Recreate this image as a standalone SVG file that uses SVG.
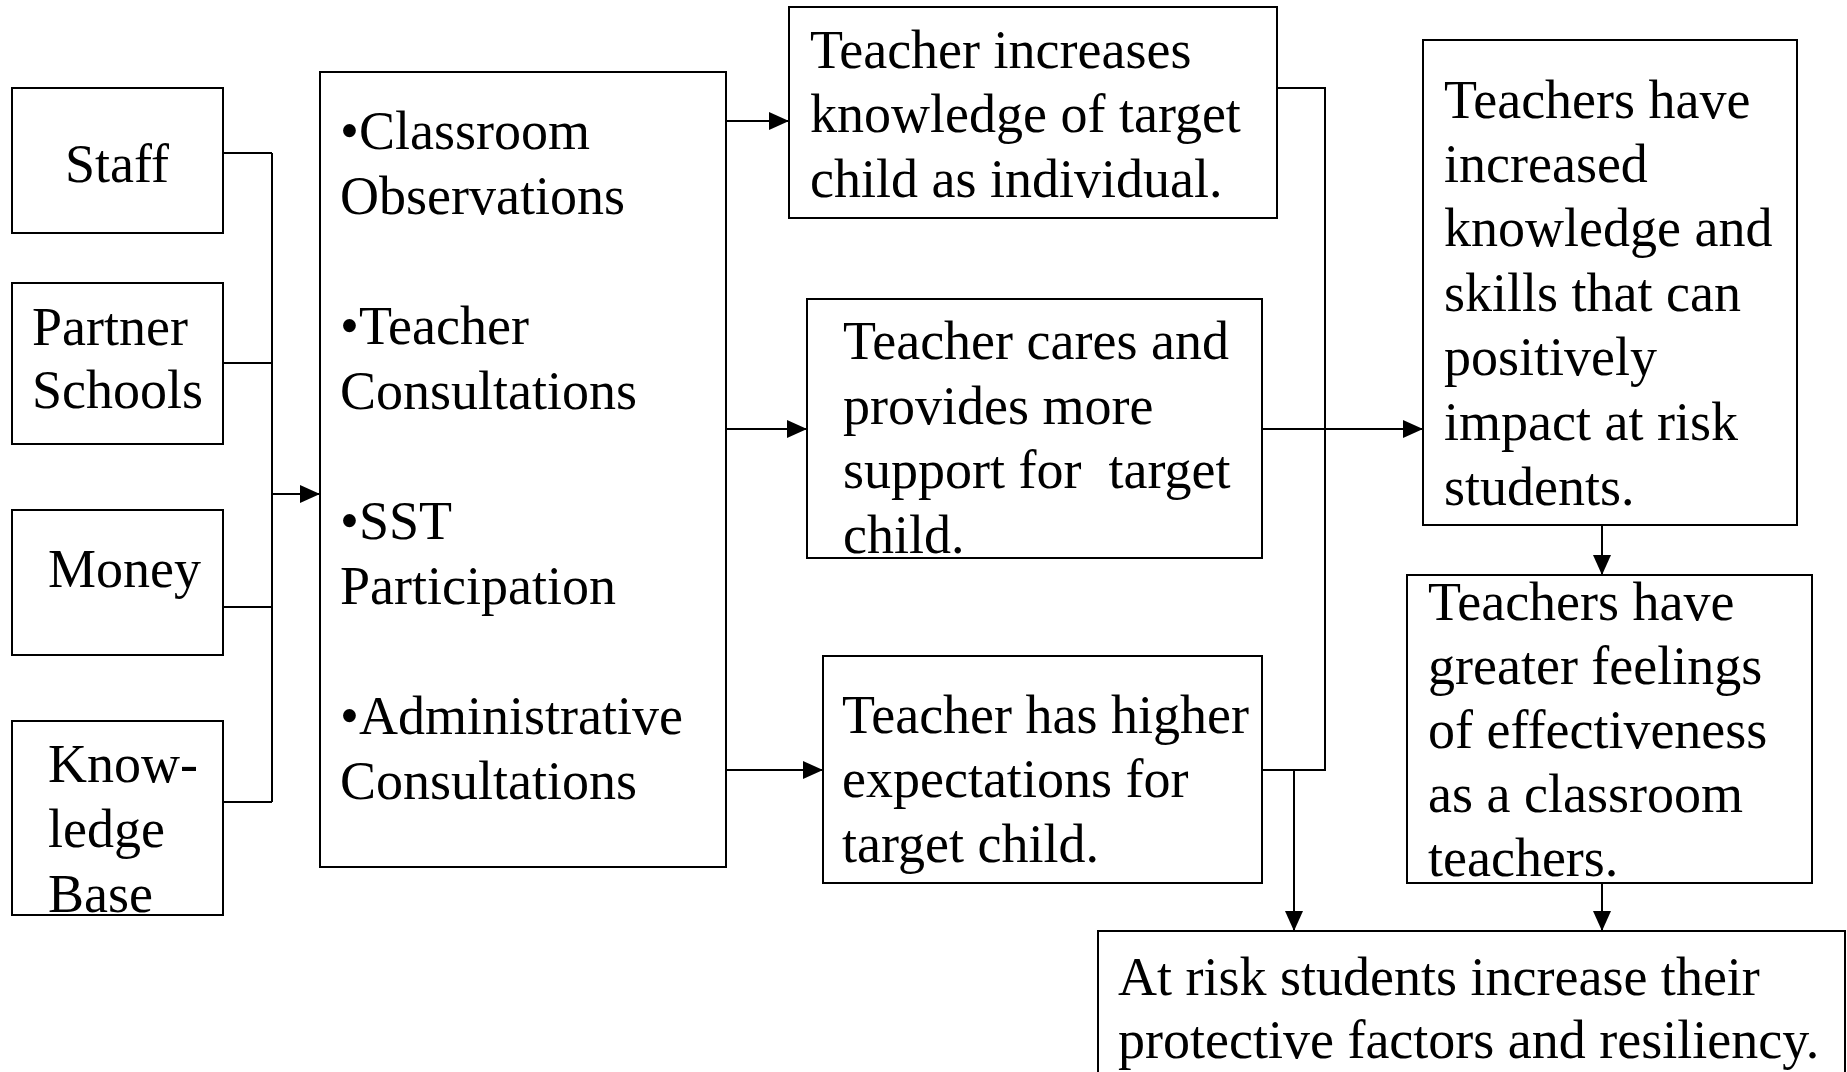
<svg xmlns="http://www.w3.org/2000/svg" width="1847" height="1072" viewBox="0 0 1847 1072">
  <style>
    .box { fill: #fff; stroke: #000; stroke-width: 2; }
    .lbl { font-family: "Liberation Serif", "Times New Roman", serif; font-size: 54px; fill: #000; }
    .wire { fill: none; stroke: #000; stroke-width: 2; }
    .arrow { fill: none; stroke: #000; stroke-width: 2; marker-end: url(#head); }
  </style>
  <defs>
    <marker id="head" viewBox="0 0 20 18" refX="20" refY="9" markerWidth="20" markerHeight="18" markerUnits="userSpaceOnUse" orient="auto">
      <path d="M0,0 L20,9 L0,18 Z" fill="#000"/>
    </marker>
  </defs>

  <rect width="1847" height="1072" fill="#fff"/>

  <!-- Inputs -->
  <g id="staff">
    <rect class="box" x="12" y="88" width="211" height="145"/>
    <text class="lbl" x="65" y="182">Staff</text>
  </g>
  <g id="partner-schools">
    <rect class="box" x="12" y="283" width="211" height="161"/>
    <text class="lbl" x="32" y="345">Partner</text>
    <text class="lbl" x="32" y="408">Schools</text>
  </g>
  <g id="money">
    <rect class="box" x="12" y="510" width="211" height="145"/>
    <text class="lbl" x="48" y="587">Money</text>
  </g>
  <g id="knowledge-base">
    <rect class="box" x="12" y="721" width="211" height="194"/>
    <text class="lbl" x="48" y="782">Know-</text>
    <text class="lbl" x="48" y="847">ledge</text>
    <text class="lbl" x="48" y="912">Base</text>
  </g>

  <!-- Activities -->
  <g id="activities">
    <rect class="box" x="320" y="72" width="406" height="795"/>
    <text class="lbl" x="340" y="149">•Classroom</text>
    <text class="lbl" x="340" y="214">Observations</text>
    <text class="lbl" x="340" y="344">•Teacher</text>
    <text class="lbl" x="340" y="409">Consultations</text>
    <text class="lbl" x="340" y="539">•SST</text>
    <text class="lbl" x="340" y="604">Participation</text>
    <text class="lbl" x="340" y="734">•Administrative</text>
    <text class="lbl" x="340" y="799">Consultations</text>
  </g>

  <!-- Short-term outcomes -->
  <g id="knowledge-of-child">
    <rect class="box" x="789" y="7" width="488" height="211"/>
    <text class="lbl" x="810" y="68">Teacher increases</text>
    <text class="lbl" x="810" y="132">knowledge of target</text>
    <text class="lbl" x="810" y="197">child as individual.</text>
  </g>
  <g id="cares-and-supports">
    <rect class="box" x="807" y="299" width="455" height="259"/>
    <text class="lbl" x="843" y="359">Teacher cares and</text>
    <text class="lbl" x="843" y="424">provides more</text>
    <text class="lbl" x="843" y="488">support for&#160; target</text>
    <text class="lbl" x="843" y="553">child.</text>
  </g>
  <g id="higher-expectations">
    <rect class="box" x="823" y="656" width="439" height="227"/>
    <text class="lbl" x="842" y="733">Teacher has higher</text>
    <text class="lbl" x="842" y="797">expectations for</text>
    <text class="lbl" x="842" y="862">target child.</text>
  </g>

  <!-- Longer-term outcomes -->
  <g id="knowledge-and-skills">
    <rect class="box" x="1423" y="40" width="374" height="485"/>
    <text class="lbl" x="1444" y="118">Teachers have</text>
    <text class="lbl" x="1444" y="182">increased</text>
    <text class="lbl" x="1444" y="246">knowledge and</text>
    <text class="lbl" x="1444" y="311">skills that can</text>
    <text class="lbl" x="1444" y="375">positively</text>
    <text class="lbl" x="1444" y="440">impact at risk</text>
    <text class="lbl" x="1444" y="505">students.</text>
  </g>
  <g id="effectiveness">
    <rect class="box" x="1407" y="575" width="405" height="308"/>
    <text class="lbl" x="1428" y="620">Teachers have</text>
    <text class="lbl" x="1428" y="684">greater feelings</text>
    <text class="lbl" x="1428" y="748">of effectiveness</text>
    <text class="lbl" x="1428" y="812">as a classroom</text>
    <text class="lbl" x="1428" y="876">teachers.</text>
  </g>
  <g id="resiliency">
    <rect class="box" x="1098" y="931" width="747" height="170"/>
    <text class="lbl" x="1118" y="995">At risk students increase their</text>
    <text class="lbl" x="1118" y="1058">protective factors and resiliency.</text>
  </g>

  <!-- Connectors -->
  <g id="connectors">
    <!-- inputs bus -->
    <path class="wire" d="M223,153 H272 M223,363 H272 M223,607 H272 M223,802 H272 M272,153 V802"/>
    <path class="arrow" d="M272,494 H320"/>
    <!-- activities to short-term outcomes -->
    <path class="arrow" d="M726,121 H789"/>
    <path class="arrow" d="M726,429 H807"/>
    <path class="arrow" d="M726,770 H823"/>
    <!-- short-term outcomes merge -->
    <path class="wire" d="M1277,88 H1325 V770 H1262"/>
    <path class="arrow" d="M1262,429 H1423"/>
    <path class="arrow" d="M1294,770 V931"/>
    <!-- longer-term chain -->
    <path class="arrow" d="M1602,525 V575"/>
    <path class="arrow" d="M1602,883 V931"/>
  </g>
</svg>
